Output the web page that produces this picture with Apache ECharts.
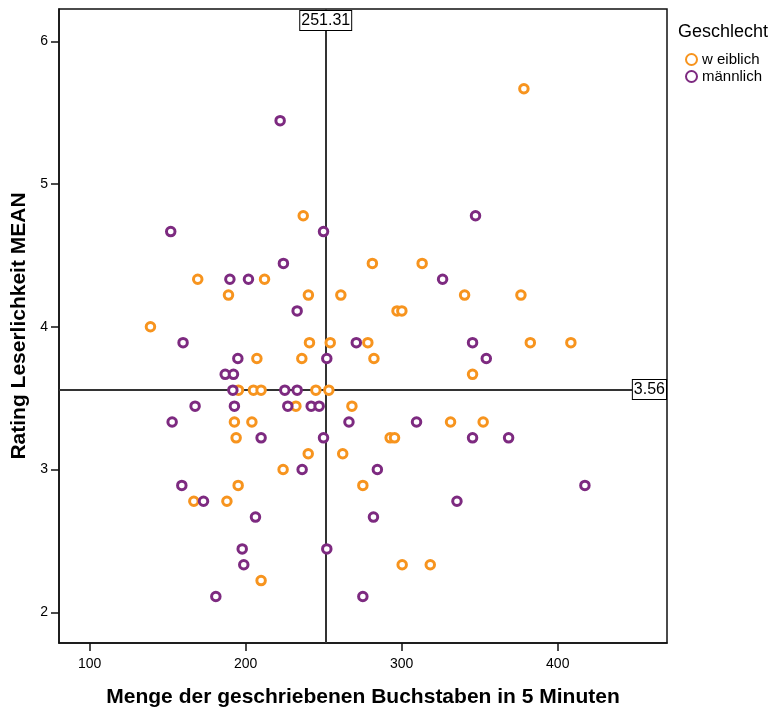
<!DOCTYPE html>
<html>
<head>
<meta charset="utf-8">
<script src="https://cdn.jsdelivr.net/npm/echarts@6/dist/echarts.min.js"></script>
<style>
  html, body { margin: 0; padding: 0; background: #fff; }
  #chart { width: 777px; height: 713px; }
</style>
</head>
<body>
<div id="chart"></div>
<script>
// Letters written in 5 minutes vs. mean legibility rating, by gender
var weiblichX = [378.3, 236.9, 281.2, 313.1, 169.3, 212.1, 189.0, 240.2, 261.0, 340.3,
                 376.4, 297.0, 300.1, 139.0, 240.9, 254.2, 278.3, 382.4, 408.4, 207.2,
                 236.0, 282.2, 345.4, 195.4, 205.0, 209.9, 245.0, 253.3, 232.2, 268.1,
                 192.8, 204.0, 331.3, 352.2, 193.9, 292.6, 295.4, 240.1, 262.2, 224.0,
                 195.2, 275.1, 166.8, 188.0, 209.9, 300.3, 318.3];
var weiblichY = [5.667, 4.778, 4.444, 4.444, 4.333, 4.333, 4.222, 4.222, 4.222, 4.222,
                 4.222, 4.111, 4.111, 4.000, 3.889, 3.889, 3.889, 3.889, 3.889, 3.778,
                 3.778, 3.778, 3.667, 3.556, 3.556, 3.556, 3.556, 3.556, 3.444, 3.444,
                 3.333, 3.333, 3.333, 3.333, 3.222, 3.222, 3.222, 3.111, 3.111, 3.000,
                 2.889, 2.889, 2.778, 2.778, 2.222, 2.333, 2.333];

var maennlichX = [222.1, 152.0, 249.9, 347.3, 224.2, 189.9, 201.8, 326.2, 233.0, 159.9,
                  270.9, 345.4, 195.0, 252.0, 354.2, 186.9, 192.2, 191.8, 225.1, 233.0,
                  167.6, 192.8, 227.0, 242.0, 247.1, 152.9, 266.2, 309.5, 209.9, 249.9,
                  345.4, 368.5, 236.2, 284.4, 159.1, 417.4, 173.0, 335.4, 206.3, 281.9,
                  197.8, 252.0, 198.8, 180.9, 275.1];
var maennlichY = [5.444, 4.667, 4.667, 4.778, 4.444, 4.333, 4.333, 4.333, 4.111, 3.889,
                  3.889, 3.889, 3.778, 3.778, 3.778, 3.667, 3.667, 3.556, 3.556, 3.556,
                  3.444, 3.444, 3.444, 3.444, 3.444, 3.333, 3.333, 3.333, 3.222, 3.222,
                  3.222, 3.222, 3.000, 3.000, 2.889, 2.889, 2.778, 2.778, 2.667, 2.667,
                  2.444, 2.444, 2.333, 2.111, 2.111];

var xTicks = [100, 200, 300, 400];
var yTicks = [2, 3, 4, 5, 6];
var xMean = 251.31;
var yMean = 3.56;
var xRange = [80.4, 470];
var yRange = [1.785, 6.226];

function pairs(xs, ys) {
  return xs.map(function (x, i) { return [x, ys[i]]; });
}

var FONT = '"Liberation Sans", Arial, sans-serif';
var ORANGE = '#F7941E';
var PURPLE = '#7D2A80';

// white boxed value labels at the end of the mean reference lines
var boxLabel = {
  show: true,
  color: '#000',
  fontFamily: FONT,
  fontSize: 16,
  backgroundColor: '#fff',
  borderColor: '#000',
  borderWidth: 1,
  padding: [2, 1, 1, 1]
};

var chart = echarts.init(document.getElementById('chart'), null, { renderer: 'canvas' });

chart.setOption({
  animation: false,
  backgroundColor: '#fff',
  title: {
    text: 'Geschlecht',
    left: 673,
    top: 18,
    textStyle: { fontFamily: FONT, fontSize: 18, fontWeight: 'normal', color: '#000' }
  },
  legend: {
    orient: 'vertical',
    left: 680,
    top: 47,
    itemWidth: 11,
    itemHeight: 11,
    itemGap: 2,
    textStyle: { fontFamily: FONT, fontSize: 15, color: '#000' },
    data: ['w eiblich', 'männlich']
  },
  grid: {
    left: 59, right: 110, top: 9, bottom: 69,
    show: true,
    borderColor: '#111',
    borderWidth: 1.5,
    backgroundColor: '#fff'
  },
  xAxis: {
    type: 'value',
    min: xRange[0],
    max: xRange[1],
    name: 'Menge der geschriebenen Buchstaben in 5 Minuten',
    nameLocation: 'middle',
    nameGap: 44,
    nameTextStyle: { fontFamily: FONT, fontSize: 21, fontWeight: 'bold', color: '#000' },
    axisLine: { show: true, onZero: false, lineStyle: { color: '#111', width: 1.5 } },
    axisTick: { show: true, length: 8, customValues: xTicks, lineStyle: { color: '#111', width: 1.5 } },
    axisLabel: { customValues: xTicks, fontFamily: FONT, fontSize: 14, color: '#000', margin: 14 },
    splitLine: { show: false }
  },
  yAxis: {
    type: 'value',
    min: yRange[0],
    max: yRange[1],
    name: 'Rating Leserlichkeit MEAN',
    nameLocation: 'middle',
    nameGap: 27,
    nameTextStyle: { fontFamily: FONT, fontSize: 21, fontWeight: 'bold', color: '#000' },
    axisLine: { show: true, onZero: false, lineStyle: { color: '#111', width: 1.5 } },
    axisTick: { show: true, length: 8, customValues: yTicks, lineStyle: { color: '#111', width: 1.5 } },
    axisLabel: { customValues: yTicks, fontFamily: FONT, fontSize: 14, color: '#000', margin: 11 },
    splitLine: { show: false }
  },
  series: [
    {
      name: 'w eiblich',
      type: 'scatter',
      symbol: 'circle',
      symbolSize: 8.5,
      itemStyle: { color: '#fff', borderColor: ORANGE, borderWidth: 3, opacity: 1 },
      data: pairs(weiblichX, weiblichY),
      z: 3
    },
    {
      name: 'männlich',
      type: 'scatter',
      symbol: 'circle',
      symbolSize: 8.5,
      itemStyle: { color: '#fff', borderColor: PURPLE, borderWidth: 3, opacity: 1 },
      data: pairs(maennlichX, maennlichY),
      z: 3,
      markLine: {
        silent: true,
        symbol: 'none',
        animation: false,
        lineStyle: { color: '#333', width: 2, type: 'solid' },
        label: { show: false },
        data: [{ xAxis: xMean }, { yAxis: yMean }],
        z: 1
      },
      markPoint: {
        silent: true,
        symbol: 'rect',
        symbolSize: 0,
        data: [
          {
            coord: [xMean, yRange[1]],
            value: xMean.toFixed(2),
            label: Object.assign({}, boxLabel, {
              position: 'inside', align: 'center', verticalAlign: 'top', offset: [0, 2],
              formatter: '{c}'
            })
          },
          {
            coord: [xRange[1], yMean],
            value: yMean.toFixed(2),
            label: Object.assign({}, boxLabel, {
              position: 'inside', align: 'right', verticalAlign: 'middle', offset: [-1, 0],
              formatter: '{c}'
            })
          }
        ],
        z: 5
      }
    }
  ]
});
</script>
</body>
</html>
